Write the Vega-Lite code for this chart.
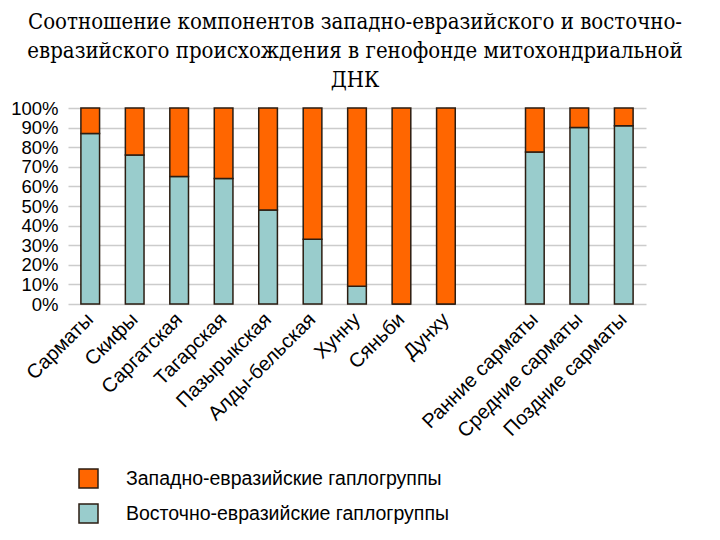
{
  "$schema": "https://vega.github.io/schema/vega-lite/v6.json",
  "autosize": {"type": "none"},
  "padding": {"left": 68, "top": 108, "right": 74, "bottom": 236},
  "width": 578,
  "height": 196,
  "background": "white",
  "title": {
    "text": ["Соотношение компонентов западно-евразийского и восточно-", "евразийского происхождения в генофонде митохондриальной", "ДНК"],
    "font": "DejaVu Serif Condensed",
    "fontSize": 22,
    "fontWeight": "normal",
    "color": "black",
    "anchor": "middle",
    "lineHeight": 29,
    "offset": 7,
    "dx": -2
  },
  "data": {
    "values": [
      {"culture": "Сарматы", "group": "Восточно-евразийские гаплогруппы", "value": 87},
      {"culture": "Сарматы", "group": "Западно-евразийские гаплогруппы", "value": 13},
      {"culture": "Скифы", "group": "Восточно-евразийские гаплогруппы", "value": 76},
      {"culture": "Скифы", "group": "Западно-евразийские гаплогруппы", "value": 24},
      {"culture": "Саргатская", "group": "Восточно-евразийские гаплогруппы", "value": 65},
      {"culture": "Саргатская", "group": "Западно-евразийские гаплогруппы", "value": 35},
      {"culture": "Тагарская", "group": "Восточно-евразийские гаплогруппы", "value": 64},
      {"culture": "Тагарская", "group": "Западно-евразийские гаплогруппы", "value": 36},
      {"culture": "Пазырыкская", "group": "Восточно-евразийские гаплогруппы", "value": 48},
      {"culture": "Пазырыкская", "group": "Западно-евразийские гаплогруппы", "value": 52},
      {"culture": "Алды-бельская", "group": "Восточно-евразийские гаплогруппы", "value": 33},
      {"culture": "Алды-бельская", "group": "Западно-евразийские гаплогруппы", "value": 67},
      {"culture": "Хунну", "group": "Восточно-евразийские гаплогруппы", "value": 9},
      {"culture": "Хунну", "group": "Западно-евразийские гаплогруппы", "value": 91},
      {"culture": "Сяньби", "group": "Восточно-евразийские гаплогруппы", "value": 0},
      {"culture": "Сяньби", "group": "Западно-евразийские гаплогруппы", "value": 100},
      {"culture": "Дунху", "group": "Восточно-евразийские гаплогруппы", "value": 0},
      {"culture": "Дунху", "group": "Западно-евразийские гаплогруппы", "value": 100},
      {"culture": "Ранние сарматы", "group": "Восточно-евразийские гаплогруппы", "value": 77.5},
      {"culture": "Ранние сарматы", "group": "Западно-евразийские гаплогруппы", "value": 22.5},
      {"culture": "Средние сарматы", "group": "Восточно-евразийские гаплогруппы", "value": 90},
      {"culture": "Средние сарматы", "group": "Западно-евразийские гаплогруппы", "value": 10},
      {"culture": "Поздние сарматы", "group": "Восточно-евразийские гаплогруппы", "value": 91},
      {"culture": "Поздние сарматы", "group": "Западно-евразийские гаплогруппы", "value": 9}
    ]
  },
  "mark": {"type": "bar", "stroke": "#2b1d12", "strokeWidth": 1.5},
  "encoding": {
    "x": {
      "field": "culture",
      "type": "nominal",
      "scale": {
        "domain": ["Сарматы", "Скифы", "Саргатская", "Тагарская", "Пазырыкская", "Алды-бельская", "Хунну", "Сяньби", "Дунху", " ", "Ранние сарматы", "Средние сарматы", "Поздние сарматы"],
        "paddingInner": 0.58,
        "paddingOuter": 0.29
      },
      "axis": {
        "title": null,
        "labelAngle": -45,
        "labelAlign": "right",
        "labelBaseline": "middle",
        "labelFont": "Liberation Sans",
        "labelFontSize": 20,
        "labelColor": "black",
        "labelLimit": 0,
        "ticks": false,
        "domain": false,
        "labelPadding": 12
      }
    },
    "y": {
      "field": "value",
      "type": "quantitative",
      "stack": "zero",
      "scale": {"domain": [0, 100]},
      "axis": {
        "title": null,
        "values": [0, 10, 20, 30, 40, 50, 60, 70, 80, 90, 100],
        "labelExpr": "datum.value + '%'",
        "labelFont": "Liberation Sans",
        "labelFontSize": 18.5,
        "labelColor": "black",
        "ticks": false,
        "domain": false,
        "labelPadding": 10,
        "grid": true,
        "gridColor": "#cccccc",
        "gridWidth": 1.5
      }
    },
    "color": {
      "field": "group",
      "type": "nominal",
      "scale": {
        "domain": ["Западно-евразийские гаплогруппы", "Восточно-евразийские гаплогруппы"],
        "range": ["#ff6600", "#99cccc"]
      },
      "legend": {
        "title": null,
        "orient": "none",
        "legendX": 10,
        "legendY": 360,
        "direction": "vertical",
        "symbolType": "square",
        "symbolSize": 361,
        "symbolStrokeColor": "#2b1d12",
        "symbolStrokeWidth": 1.5,
        "symbolOpacity": 1,
        "labelFont": "Liberation Sans",
        "labelFontSize": 19.5,
        "labelColor": "black",
        "labelLimit": 0,
        "labelOffset": 27,
        "rowPadding": 10,
        "padding": 0
      }
    },
    "order": {"field": "group", "sort": "ascending"}
  },
  "config": {
    "view": {"stroke": null}
  }
}
